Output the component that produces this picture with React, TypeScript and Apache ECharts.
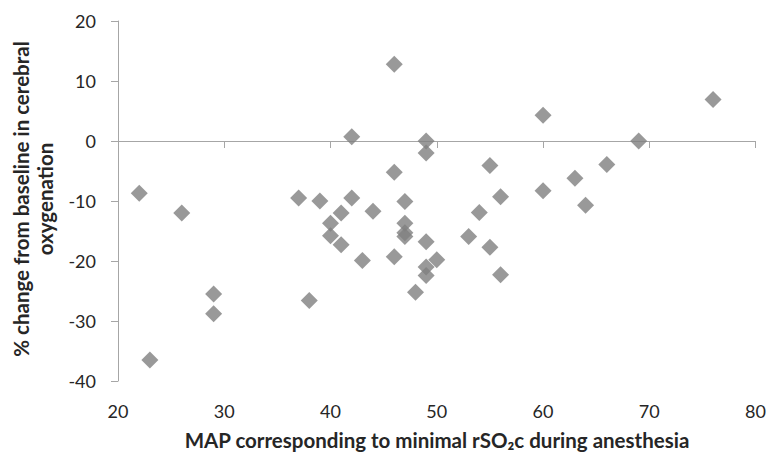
import React, { useEffect, useRef } from "react";
import * as echarts from "echarts";

const mapValues = [22, 23, 26, 29, 29, 37, 38, 39, 40, 40, 41, 41, 42, 42, 43, 44, 46, 46, 46, 47, 47, 47, 47, 48, 49, 49, 49, 49, 49, 50, 53, 54, 55, 55, 56, 56, 60, 60, 63, 64, 66, 69, 76];
const changeValues = [-8.7, -36.5, -12, -25.5, -28.8, -9.5, -26.6, -10, -13.7, -15.8, -12, -17.3, 0.7, -9.5, -19.9, -11.7, 12.8, -5.2, -19.3, -10.1, -13.7, -15.3, -15.9, -25.2, 0, -2, -16.8, -21, -22.4, -19.8, -15.9, -11.9, -4.1, -17.7, -9.3, -22.3, 4.3, -8.3, -6.2, -10.7, -3.9, 0, 6.9];

const xTitle = "MAP corresponding to minimal rSO₂c during anesthesia";
const yTitle = "% change from baseline in cerebral\noxygenation";

export default function App() {
  const ref = useRef<HTMLDivElement>(null);
  useEffect(() => {
    if (!ref.current) return;
    const chart = echarts.init(ref.current, undefined, { renderer: "svg" });
    const axisStyle = { lineStyle: { color: "#a6a6a6", width: 1 } };
    chart.setOption({
      animation: false,
      grid: { left: 118, right: 12, top: 21, bottom: 72 },
      xAxis: {
        type: "value",
        min: 20,
        max: 80,
        interval: 10,
        axisLine: { show: true, ...axisStyle },
        axisTick: { show: true, length: 7, inside: false, ...axisStyle },
        splitLine: { show: false },
        axisLabel: { margin: 21, fontFamily: "Lato", fontSize: 18, color: "#262626" },
      },
      yAxis: {
        type: "value",
        min: -40,
        max: 20,
        interval: 10,
        axisLine: { show: true, ...axisStyle },
        axisTick: { show: true, length: 7, inside: false, ...axisStyle },
        splitLine: { show: false },
        axisLabel: { margin: 22, fontFamily: "Lato", fontSize: 18, color: "#262626" },
      },
      graphic: [
        {
          type: "text",
          x: 437,
          y: 440,
          style: {
            text: xTitle,
            fontFamily: "Lato",
            fontWeight: "bold",
            fontSize: 20.5,
            fill: "#262626",
            textAlign: "center",
            textVerticalAlign: "middle",
          },
        },
        {
          type: "text",
          x: 33,
          y: 199,
          rotation: Math.PI / 2,
          style: {
            text: yTitle,
            fontFamily: "Lato",
            fontWeight: "bold",
            fontSize: 20.5,
            lineHeight: 24,
            fill: "#262626",
            textAlign: "center",
            textVerticalAlign: "middle",
          },
        },
      ],
      series: [
        {
          type: "scatter",
          symbol: "diamond",
          symbolSize: 17,
          itemStyle: { color: "#7f7f7f" },
          data: mapValues.map((x, i) => [x, changeValues[i]]),
        },
      ],
    });
    return () => chart.dispose();
  }, []);
  return <div ref={ref} style={{ width: 769, height: 453, position: "absolute", left: 0, top: 0 }} />;
}
